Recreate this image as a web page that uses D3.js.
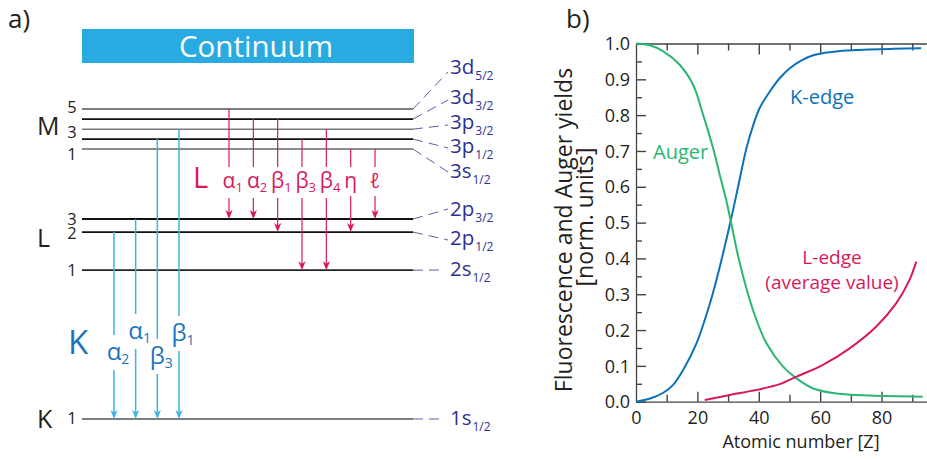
<!DOCTYPE html>
<html><head><meta charset="utf-8">
<script src="https://cdn.jsdelivr.net/npm/d3@7"></script>
<style>
body{margin:0;background:#fff}
svg text{font-family:'Open Sans','Noto Sans',sans-serif}
</style>
</head><body>
<svg id="c" width="927" height="459"></svg>
<script>
// ---------------- DATA ----------------
// Panel a: energy levels (schematic energy, arbitrary units)
const levelIds      = ["K1","L1","L2","L3","M1","M2","M3","M4","M5"];
const levelEnergy   = [0, 48, 60.3, 64.5, 87.1, 90.3, 93.5, 96.75, 100];
const levelNumber   = ["1","1","2","3","1","","3","","5"];
const orbitalMain   = ["1s","2s","2p","2p","3s","3p","3p","3d","3d"];
const orbitalSub    = ["1/2","1/2","1/2","3/2","1/2","1/2","3/2","3/2","5/2"];
const shellNames    = ["K","L","M"];
// K-series transitions
const kLineGreek = ["α","α","β","β"];
const kLineSub   = ["2","1","3","1"];
const kLineFrom  = ["L2","L3","M2","M3"];
const kLineTo    = ["K1","K1","K1","K1"];
// L-series transitions
const lLineGreek = ["α","α","β","β","β","η","ℓ"];
const lLineSub   = ["1","2","1","3","4","",""];
const lLineFrom  = ["M5","M4","M4","M2","M3","M1","M1"];
const lLineTo    = ["L3","L3","L2","L1","L1","L2","L3"];

// Panel b: yields vs atomic number
const kEdgeZ     = [0, 4.6, 8.9, 12.1, 15.4, 19.7, 24.1, 27.3, 30.9, 33.5, 36, 38.3, 40.3, 43.6, 46.8, 50.1, 53.8, 57.7, 61.5, 65.3, 70.5, 76.1, 84, 92.9];
const kEdgeYield = [0, 0.009, 0.025, 0.047, 0.089, 0.163, 0.275, 0.377, 0.507, 0.61, 0.708, 0.775, 0.82, 0.866, 0.903, 0.931, 0.952, 0.967, 0.974, 0.978, 0.981, 0.983, 0.985, 0.987];
const augerZ     = [0, 4.5, 8.9, 14.3, 18.6, 21.9, 25.1, 27.3, 29.5, 30.9, 33.8, 38.1, 42.5, 47.9, 52.3, 57.7, 65.3, 76.1, 93.4];
const augerYield = [1.0, 0.995, 0.978, 0.94, 0.885, 0.80, 0.708, 0.633, 0.559, 0.503, 0.387, 0.256, 0.163, 0.098, 0.065, 0.037, 0.023, 0.017, 0.014];
const lEdgeZ     = [22.4, 30.6, 39.3, 46.8, 52.3, 60.9, 69.6, 78.3, 84.8, 89.1, 91.3];
const lEdgeYield = [0.005, 0.019, 0.033, 0.049, 0.07, 0.103, 0.149, 0.21, 0.275, 0.34, 0.391];
const xTickValues = [0, 20, 40, 60, 80];
const yTickValues = [0, 0.1, 0.2, 0.3, 0.4, 0.5, 0.6, 0.7, 0.8, 0.9, 1.0];

// ---------------- LAYOUT ----------------
const svg = d3.select("#c");
const FONT = "'Open Sans','Noto Sans',sans-serif";
const colK = "#3cb4e6", colKtxt = "#1c75bc";
const colL = "#d7195c";
const colOrb = "#2e3192", colDash = "#5a5eaa";
const colText = "#231f20";

// panel labels
svg.append("text").attr("x",8).attr("y",28).attr("font-size",26).attr("fill",colText).text("a)");
svg.append("text").attr("x",566).attr("y",28).attr("font-size",26).attr("fill",colText).text("b)");

// ===== Panel a =====
const yE = d3.scaleLinear().domain([0,100]).range([419,109]);
const lvlX0 = 82, lvlX1 = 413;
const E = id => levelEnergy[levelIds.indexOf(id)];

// Continuum
const gA = svg.append("g");
gA.append("rect").attr("x",82).attr("y",29).attr("width",332).attr("height",34).attr("fill","#29abe2");
gA.append("text").attr("x",256).attr("y",56.5).attr("text-anchor","middle")
  .attr("font-size",29.5).attr("fill","#fff").text("Continuum");

// level lines
const lvlStroke = {K1:["#555",1.6],L1:["#222",1.8],L2:["#111",1.8],L3:["#111",2],M1:["#666",1.4],M2:["#111",1.8],M3:["#777",1.5],M4:["#111",1.8],M5:["#555",1.4]};
gA.selectAll("line.lvl").data(levelIds).join("line").attr("class","lvl")
  .attr("x1",lvlX0).attr("x2",lvlX1)
  .attr("y1",d=>yE(E(d))).attr("y2",d=>yE(E(d)))
  .attr("stroke",d=>lvlStroke[d][0]).attr("stroke-width",d=>lvlStroke[d][1]);

// level numbers
const numBaseOff = {K1:5,L1:6,L2:6.5,L3:6,M1:11,M2:0,M3:9,M4:0,M5:4};
gA.selectAll("text.num").data(levelIds.filter((d,i)=>levelNumber[i]!=="")).join("text").attr("class","num")
  .attr("x",72).attr("y",d=>yE(E(d))+numBaseOff[d]).attr("text-anchor","middle")
  .attr("font-size",16.5).attr("fill",colText)
  .text(d=>levelNumber[levelIds.indexOf(d)]);

// shell letters
const shellBase = {K:428,L:247,M:135};
gA.selectAll("text.shell").data(shellNames).join("text").attr("class","shell")
  .attr("x",37).attr("y",d=>shellBase[d]).attr("font-size",25).attr("fill",colText).text(d=>d);

// orbital labels on the right
const orbBase = {K1:425,L1:276,L2:245,L3:216,M1:178,M2:153,M3:129,M4:104,M5:74};
const orbEnd  = {K1:419,L1:270,L2:240,L3:209,M1:172,M2:148,M3:125,M4:100,M5:72};
gA.selectAll("line.con").data(levelIds).join("line").attr("class","con")
  .attr("x1",lvlX1).attr("y1",d=>yE(E(d))).attr("x2",d=>(d==="K1"||d==="L1")?440:448).attr("y2",d=>orbEnd[d])
  .attr("stroke",colDash).attr("stroke-width",1).attr("stroke-dasharray","10,6");
const orbT = gA.selectAll("text.orb").data(levelIds).join("text").attr("class","orb")
  .attr("x",450).attr("y",d=>orbBase[d]).attr("fill",colOrb).attr("font-size",20.5);
orbT.append("tspan").text(d=>orbitalMain[levelIds.indexOf(d)]);
orbT.append("tspan").attr("font-size",12).attr("dy",6).attr("dx",1).text(d=>orbitalSub[levelIds.indexOf(d)]);

// arrows
function arrowHead(g, x, y, col){
  g.append("path").attr("d",`M${x},${y} L${x-3.6},${y-9} L${x},${y-6.5} L${x+3.6},${y-9} Z`).attr("fill",col);
}
function drawTransitions(names, greek, subs, from, to, xScale, col, txtCol, lblY, fs, subFs, sw){
  const g = gA.append("g");
  const lines = g.append("g"), bg = g.append("g"), labels = g.append("g");
  names.forEach((n,i)=>{
    const x = xScale(n);
    const y1 = yE(E(from[i])), y2 = yE(E(to[i]));
    lines.append("line").attr("x1",x).attr("x2",x).attr("y1",y1).attr("y2",y2-6)
      .attr("stroke",col).attr("stroke-width",sw);
    arrowHead(lines, x, y2, col);
    const t = labels.append("text").attr("y",lblY[i]).attr("fill",txtCol).attr("font-size",fs);
    const main = t.append("tspan").text(greek[i]);
    if(subs[i]) t.append("tspan").attr("font-size",subFs).attr("dy",4).text(subs[i]);
    const w = main.node().getComputedTextLength();
    t.attr("x", x - w/2);
    const bb = t.node().getBBox();
    bg.append("rect").attr("x",bb.x-1).attr("y",bb.y+1).attr("width",bb.width+2).attr("height",bb.height+1).attr("fill","#fff");
  });
}
const kNames = kLineGreek.map((d,i)=>"K"+i);
const kX = d3.scalePoint().domain(kNames).range([114,179]);
drawTransitions(kNames, kLineGreek, kLineSub, kLineFrom, kLineTo, kX, colK, colKtxt, [360,339,364,341], 24, 14, 1.5);
const lNames = lLineGreek.map((d,i)=>"L"+i);
const lX = d3.scalePoint().domain(lNames).range([229,375]);
drawTransitions(lNames, lLineGreek, lLineSub, lLineFrom, lLineTo, lX, colL, colL, [188,188,188,188,188,188,188], 21, 13, 1.2);

// series letters
gA.append("text").attr("x",193).attr("y",188).attr("font-size",29).attr("fill",colL).text("L");
gA.append("text").attr("x",68).attr("y",354).attr("font-size",33).attr("fill",colKtxt).text("K");

// ===== Panel b =====
const gB = svg.append("g");
const x = d3.scaleLinear().domain([0,94.8]).range([636,927]);
const y = d3.scaleLinear().domain([0,1]).range([401.7,43.5]);
const axCol = "#444";

// minor ticks
const yMinor = d3.range(0.05,1.0,0.1);
gB.append("g").attr("transform",`translate(${x(0)},0)`)
  .call(d3.axisLeft(y).tickValues(yMinor).tickSize(-6).tickFormat(""))
  .call(g=>g.select(".domain").remove());
const yAx = gB.append("g").attr("transform",`translate(${x(0)},0)`)
  .call(d3.axisLeft(y).tickValues(yTickValues).tickSize(-10).tickSizeOuter(0).tickPadding(6).tickFormat(d3.format(".1f")));
const xMinor = [10,30,50,70,90];
gB.append("g").attr("transform",`translate(0,${y(0)})`)
  .call(d3.axisBottom(x).tickValues(xMinor).tickSize(-7).tickFormat(""))
  .call(g=>g.select(".domain").remove());
const xAx = gB.append("g").attr("transform",`translate(0,${y(0)})`)
  .call(d3.axisBottom(x).tickValues(xTickValues).tickSize(-10).tickSizeOuter(0).tickPadding(10));
xAx.selectAll(".tick").filter(d=>d===0).select("line").remove();
// top axis
const topAx = gB.append("g").attr("transform",`translate(0,${y(1)})`)
  .call(d3.axisTop(x).tickValues([10,20,30,40,50,60,70,80,90]).tickSize(-7).tickSizeOuter(0).tickFormat(""));
topAx.selectAll(".tick line").attr("y2",d=>d%20===0?11:7);
gB.selectAll(".domain").attr("stroke",axCol).attr("stroke-width",1.3);
gB.selectAll(".tick line").attr("stroke",axCol).attr("stroke-width",1.4);
gB.selectAll(".tick text").attr("font-family",FONT).attr("font-size",18).attr("fill",colText);
yAx.selectAll(".tick text").attr("dy","0.34em");

// curves
const line = d3.line().x(d=>x(d[0])).y(d=>y(d[1])).curve(d3.curveCatmullRom.alpha(0.5));
gB.append("path").datum(kEdgeZ.map((z,i)=>[z,kEdgeYield[i]])).attr("d",line)
  .attr("fill","none").attr("stroke","#0b72ba").attr("stroke-width",2);
gB.append("path").datum(augerZ.map((z,i)=>[z,augerYield[i]])).attr("d",line)
  .attr("fill","none").attr("stroke","#2bb673").attr("stroke-width",2);
gB.append("path").datum(lEdgeZ.map((z,i)=>[z,lEdgeYield[i]])).attr("d",line)
  .attr("fill","none").attr("stroke","#d7195c").attr("stroke-width",2);

// curve labels
gB.append("text").attr("x",790).attr("y",104).attr("font-size",20).attr("fill","#0b72ba").text("K-edge");
gB.append("text").attr("x",653).attr("y",159).attr("font-size",20).attr("fill","#2bb673").text("Auger");
gB.append("text").attr("x",832).attr("y",264).attr("text-anchor","middle").attr("font-size",19).attr("fill","#d7195c").text("L-edge");
gB.append("text").attr("x",832).attr("y",289).attr("text-anchor","middle").attr("font-size",19).attr("fill","#d7195c").text("(average value)");

// axis titles
gB.append("text").attr("x",801).attr("y",448).attr("text-anchor","middle").attr("font-size",18).attr("fill",colText).text("Atomic number [Z]");
gB.append("text").attr("transform","translate(572,230) rotate(-90)").attr("text-anchor","middle").attr("font-size",23).attr("fill",colText).text("Fluorescence and Auger yields");
gB.append("text").attr("transform","translate(593,217) rotate(-90)").attr("text-anchor","middle").attr("font-size",23).attr("fill",colText).text("[norm. units]");
</script>
</body></html>
